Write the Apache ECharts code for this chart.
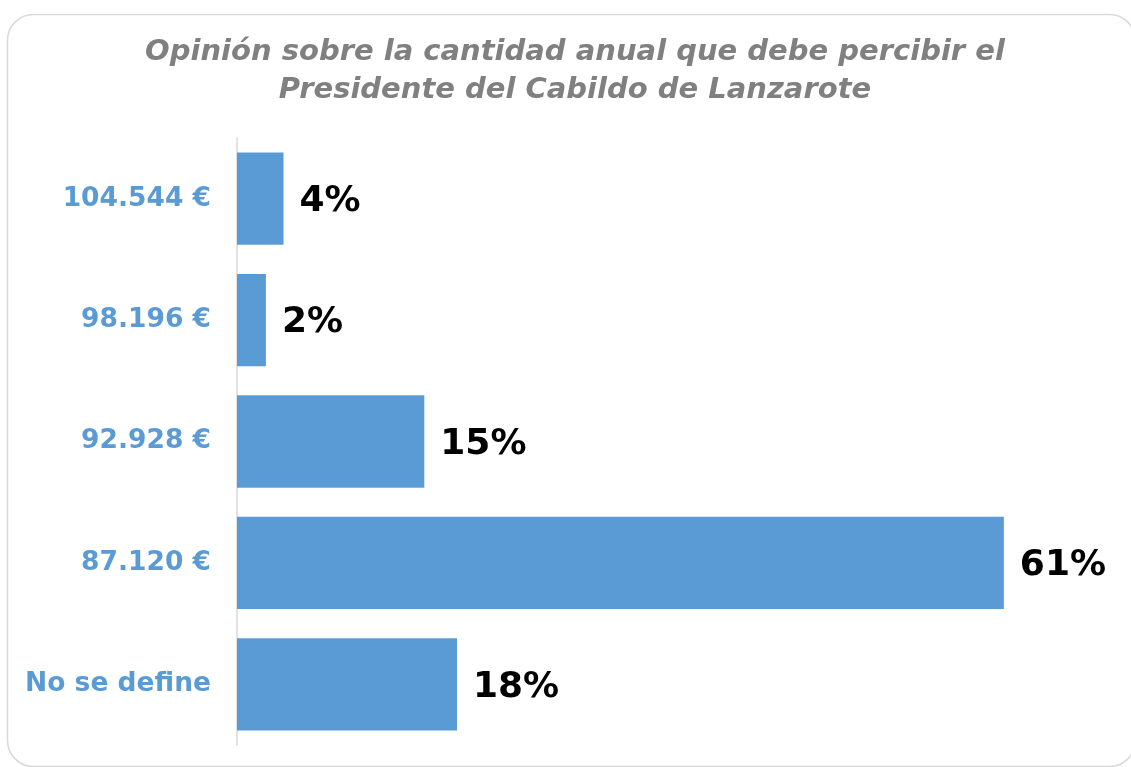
<!DOCTYPE html>
<html>
<head>
<meta charset="utf-8">
<script src="https://cdn.jsdelivr.net/npm/echarts@6/dist/echarts.min.js"></script>
<style>
  html, body { margin: 0; padding: 0; background: #fff; }
  #chart { width: 1131px; height: 767px; }
</style>
</head>
<body>
<div id="chart"></div>
<script>
// datos (porcentaje de respuestas)
const categories = ['104.544 €', '98.196 €', '92.928 €', '87.120 €', 'No se define']
const percentages = [3.7, 2.3, 14.9, 61, 17.5]
const titleText = 'Opinión sobre la cantidad anual que debe percibir el\nPresidente del Cabildo de Lanzarote'

const myChart = echarts.init(document.getElementById('chart'))

const option = {
  backgroundColor: '#fff',
  textStyle: { fontFamily: 'DejaVu Sans' },
  graphic: [
    {
      type: 'rect',
      shape: { x: 7.5, y: 14.5, width: 1128, height: 752, r: 26 },
      style: { fill: 'none', stroke: '#d9d9d9', lineWidth: 1.5 },
      z: -1,
    },
  ],
  title: {
    text: titleText,
    left: 570,
    top: 28,
    textAlign: 'center',
    textStyle: {
      fontFamily: 'DejaVu Sans',
      fontStyle: 'italic',
      fontWeight: 'bold',
      fontSize: 29,
      lineHeight: 38,
      color: '#808080',
    },
  },
  grid: {
    left: 237,
    right: 14,
    top: 138,
    bottom: 22,
  },
  xAxis: {
    type: 'value',
    min: 0,
    max: 70,
    show: false,
  },
  yAxis: {
    type: 'category',
    inverse: true,
    data: categories,
    axisLine: { show: true, lineStyle: { color: '#d9d9d9', width: 1.5 } },
    axisTick: { show: false },
    axisLabel: {
      margin: 26,
      color: '#5b9bd5',
      fontWeight: 'bold',
      fontSize: 26.5,
      fontFamily: 'DejaVu Sans',
    },
  },
  series: [
    {
      type: 'bar',
      data: percentages,
      barCategoryGap: '24%',
      itemStyle: { color: '#5b9bd5' },
      label: {
        show: true,
        position: 'right',
        distance: 16,
        offset: [0, 3],
        formatter: (p) => Math.round(p.value) + '%',
        color: '#000',
        fontWeight: 'bold',
        fontSize: 36,
        fontFamily: 'DejaVu Sans',
      },
    },
  ],
}

myChart.setOption(option)
</script>
</body>
</html>
